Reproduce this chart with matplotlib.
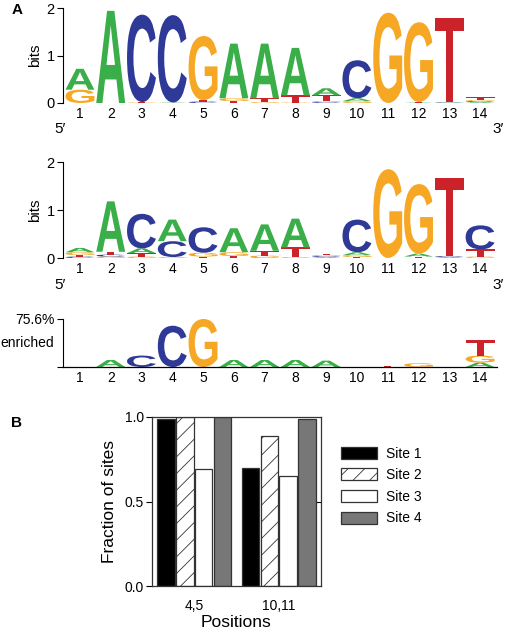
import numpy as np
import matplotlib
matplotlib.use('Agg')
import matplotlib.pyplot as plt
import matplotlib.transforms as mtransforms
from matplotlib.textpath import TextPath
from matplotlib.patches import PathPatch, Patch
from matplotlib.font_manager import FontProperties

plt.rcParams['font.family'] = ['Liberation Sans', 'DejaVu Sans']
plt.rcParams['hatch.linewidth'] = 0.6

positions = list(range(1, 15))

# logo 1 (bits)
logo1_A = [0.44, 1.94, 0.00, 0.01, 0.00, 1.15, 1.15, 1.00, 0.15, 0.06, 0.00, 0.01, 0.01, 0.02]
logo1_C = [0.00, 0.00, 1.84, 1.84, 0.03, 0.00, 0.00, 0.00, 0.02, 0.80, 0.00, 0.00, 0.01, 0.02]
logo1_G = [0.28, 0.00, 0.01, 0.00, 1.35, 0.06, 0.02, 0.01, 0.02, 0.04, 1.90, 1.68, 0.00, 0.02]
logo1_T = [0.00, 0.00, 0.01, 0.00, 0.03, 0.04, 0.08, 0.15, 0.12, 0.00, 0.00, 0.01, 1.78, 0.06]

# logo 2 (bits)
logo2_A = [0.09, 1.05, 0.10, 0.45, 0.00, 0.50, 0.55, 0.60, 0.02, 0.06, 0.00, 0.06, 0.02, 0.00]
logo2_C = [0.03, 0.04, 0.72, 0.33, 0.53, 0.00, 0.01, 0.00, 0.02, 0.68, 0.00, 0.00, 0.02, 0.50]
logo2_G = [0.06, 0.03, 0.03, 0.02, 0.08, 0.08, 0.04, 0.02, 0.02, 0.04, 1.85, 1.45, 0.00, 0.03]
logo2_T = [0.03, 0.06, 0.07, 0.00, 0.03, 0.04, 0.10, 0.20, 0.03, 0.02, 0.00, 0.03, 1.63, 0.15]

# logo 3 (% enriched)
logo3_A = [0, 11, 0, 0, 0, 11, 11, 11, 10, 0, 0, 0, 0, 7]
logo3_C = [0, 0, 18, 65, 0, 0, 0, 0, 0, 0, 0, 0, 0, 0]
logo3_G = [0, 0, 0, 0, 75.6, 0, 0, 0, 0, 0, 0, 6, 0, 11]
logo3_T = [0, 0, 0, 0, 0, 0, 0, 0, 0, 0, 2, 0, 0, 24]

# panel B
groups = ['4,5', '10,11']
sites = ['Site 1', 'Site 2', 'Site 3', 'Site 4']
site1 = [0.99, 0.70]
site2 = [1.00, 0.89]
site3 = [0.69, 0.65]
site4 = [1.00, 0.99]

base_colors = {'A': '#3aae49', 'C': '#2f3a98', 'G': '#f6a824', 'T': '#cc2229'}
letter_font = FontProperties(family='Liberation Sans', weight='bold')


def draw_letter(ax, ch, x, y0, h, w=0.94):
    tp = TextPath((0, 0), ch, size=1, prop=letter_font)
    bb = tp.get_extents()
    t = (mtransforms.Affine2D().translate(-bb.x0, -bb.y0)
         .scale(w / bb.width, h / bb.height).translate(x - w / 2, y0))
    ax.add_patch(PathPatch(t.transform_path(tp), fc=base_colors[ch], ec='none', lw=0))


def draw_logo(ax, A, C, G, T):
    for i, x in enumerate(positions):
        stack = sorted([('A', A[i]), ('C', C[i]), ('G', G[i]), ('T', T[i])], key=lambda s: s[1])
        y = 0
        for ch, h in stack:
            if h > 0:
                draw_letter(ax, ch, x, y, h)
                y += h


fig = plt.figure(figsize=(5.08, 6.30), dpi=100)

L, W = 63 / 508, 434 / 508
ax1 = fig.add_axes([L, 1 - 103 / 630, W, 95 / 630])
ax2 = fig.add_axes([L, 1 - 258 / 630, W, 96 / 630])
ax3 = fig.add_axes([L, 1 - 367 / 630, W, 48 / 630])

for ax, data in [(ax1, (logo1_A, logo1_C, logo1_G, logo1_T)),
                 (ax2, (logo2_A, logo2_C, logo2_G, logo2_T))]:
    draw_logo(ax, *data)
    ax.set_xlim(0.45, 14.55)
    ax.set_ylim(0, 2)
    ax.set_yticks([0, 1, 2])
    ax.set_xticks(positions)
    ax.tick_params(axis='x', length=0, pad=3, labelsize=10)
    ax.tick_params(axis='y', length=4, width=0.8, labelsize=10.5, pad=2)
    for s in ['top', 'right', 'bottom']:
        ax.spines[s].set_visible(False)
    ax.spines['left'].set_linewidth(0.8)
    ax.set_ylabel('bits', fontsize=11, labelpad=3)
    ax.patch.set_alpha(0)

fig.text(60 / 508, 1 - 129 / 630, '5\u2032', fontsize=11, ha='center', va='center')
fig.text(498 / 508, 1 - 129 / 630, '3\u2032', fontsize=11, ha='center', va='center')
fig.text(60 / 508, 1 - 285 / 630, '5\u2032', fontsize=11, ha='center', va='center')
fig.text(498 / 508, 1 - 285 / 630, '3\u2032', fontsize=11, ha='center', va='center')

draw_logo(ax3, logo3_A, logo3_C, logo3_G, logo3_T)
ax3.set_xlim(0.45, 14.55)
ax3.set_ylim(0, 75.6)
ax3.set_yticks([0, 75.6])
ax3.set_yticklabels(['', '75.6%'])
ax3.set_xticks(positions)
ax3.tick_params(axis='x', length=0, pad=3, labelsize=10)
ax3.tick_params(axis='y', length=4, width=0.8, labelsize=10, pad=2)
for s in ['top', 'right']:
    ax3.spines[s].set_visible(False)
ax3.spines['left'].set_linewidth(0.8)
ax3.spines['bottom'].set_linewidth(0.9)
ax3.patch.set_alpha(0)
fig.text(27 / 508, 1 - 343 / 630, 'enriched', fontsize=10, ha='center', va='center')

fig.text(17 / 508, 1 - 10 / 630, 'A', fontsize=11, fontweight='bold', ha='center', va='center')
fig.text(17 / 508, 1 - 423 / 630, 'B', fontsize=11, fontweight='bold', ha='center', va='center')

# panel B
axb = fig.add_axes([152 / 508, 1 - 586 / 630, 169 / 508, 169 / 630])
x = np.arange(len(groups))
bw = 0.207
step = 0.224
styles = [dict(color='black'), dict(color='white', hatch='//'),
          dict(color='white'), dict(color='#777777')]
for k, vals in enumerate([site1, site2, site3, site4]):
    axb.bar(x + (k - 1.5) * step, vals, bw, edgecolor='#333333', linewidth=0.9,
            label=sites[k], **styles[k])
axb.set_xlim(-0.5, 1.5)
axb.set_ylim(0, 1)
axb.set_yticks([0, 0.5, 1.0])
axb.set_yticklabels(['0.0', '0.5', '1.0'])
axb.set_xticks(x)
axb.set_xticklabels(groups)
axb.tick_params(axis='x', length=0, pad=9, labelsize=10)
axb.tick_params(axis='y', length=4, width=0.8, labelsize=10, pad=2)
for s in axb.spines.values():
    s.set_linewidth(0.9)
    s.set_color('#333333')
sec = axb.secondary_yaxis('right')
sec.set_yticks([0.5])
sec.set_yticklabels([])
sec.tick_params(direction='in', length=4, width=0.8)
sec.spines['right'].set_visible(False)
axb.set_ylabel('Fraction of sites', fontsize=12.5, labelpad=5)
axb.set_xlabel('Positions', fontsize=12.5, labelpad=2)

handles = [Patch(facecolor='black', edgecolor='#333333', lw=0.9),
           Patch(facecolor='white', edgecolor='#333333', lw=0.9, hatch='//'),
           Patch(facecolor='white', edgecolor='#333333', lw=0.9),
           Patch(facecolor='#777777', edgecolor='#333333', lw=0.9)]
fig.legend(handles, sites, loc='upper left', bbox_to_anchor=(328 / 508, 1 - 434 / 630),
           frameon=False, fontsize=10, handlelength=2.64, handleheight=0.96,
           labelspacing=0.55, handletextpad=0.65)

fig.savefig('out.png', dpi=100)
